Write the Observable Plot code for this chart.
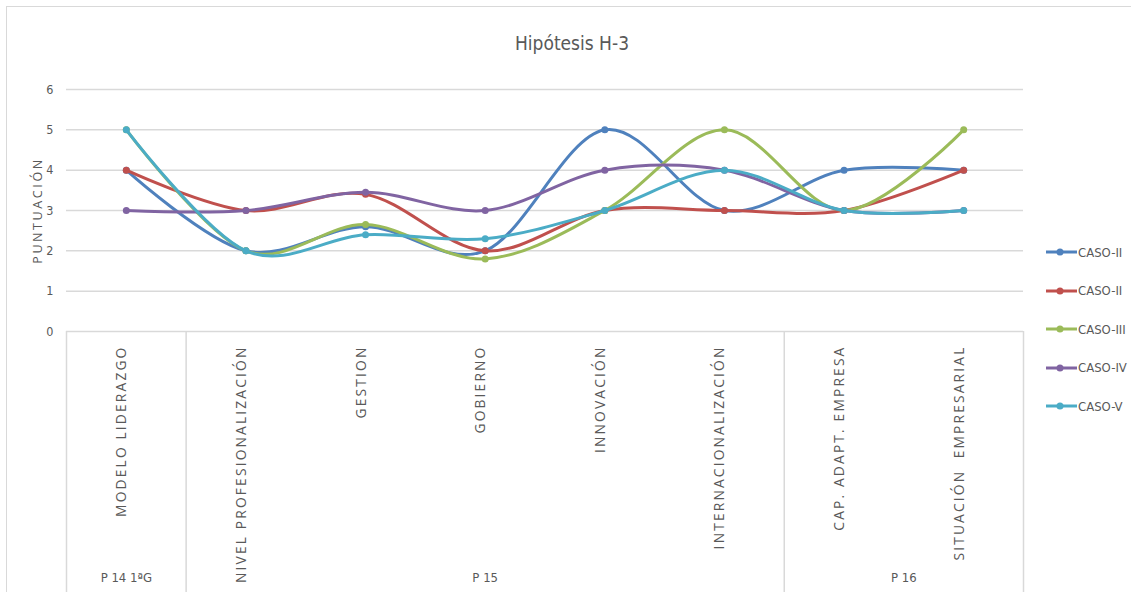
<!DOCTYPE html>
<html><head><meta charset="utf-8">
<script src="https://cdn.jsdelivr.net/npm/d3@7"></script>
<script src="https://cdn.jsdelivr.net/npm/@observablehq/plot@0.6"></script>
<style>
body{margin:0;background:#fff;}
#wrap{position:relative;width:1131px;height:592px;overflow:hidden;font-family:"DejaVu Sans Condensed","Roboto",sans-serif;}
#border{position:absolute;left:6px;top:6px;width:1140px;height:600px;border:1.5px solid #d9d9d9;}
#title{position:absolute;left:0;width:1144px;top:32px;text-align:center;font-size:19px;color:#595959;white-space:nowrap;}
#legend{position:absolute;left:1046px;top:233px;}
.item{height:38.5px;display:flex;align-items:center;font-size:13px;color:#595959;white-space:nowrap;}
.item svg{margin-right:1px;flex:none;}
#chart svg{position:absolute;left:0;top:0;overflow:visible;}
</style></head>
<body><div id="wrap"><div id="border"></div><div id="chart"></div><div id="title">Hipótesis H-3</div><div id="legend"></div></div>
<script>
const categories = ["MODELO LIDERAZGO","NIVEL PROFESIONALIZACIÓN","GESTION","GOBIERNO","INNOVACIÓN","INTERNACIONALIZACIÓN","CAP. ADAPT. EMPRESA","SITUACIÓN  EMPRESARIAL"];
const seriesNames = ["CASO-II","CASO-II","CASO-III","CASO-IV","CASO-V"];
const seriesColors = ["#4F81BD","#C0504D","#9BBB59","#8064A2","#4BACC6"];
const caso1 = [4, 2, 2.6, 2, 5, 3, 4, 4];
const caso2 = [4, 3, 3.4, 2, 3, 3, 3, 4];
const caso3 = [5, 2, 2.65, 1.8, 3, 5, 3, 5];
const caso4 = [3, 3, 3.45, 3, 4, 4, 3, 3];
const caso5 = [5, 2, 2.4, 2.3, 3, 4, 3, 3];
const groupLabels = ["P 14 1ªG","P 15","P 16"];
const groupSizes = [1, 5, 2];
const yTicks = [0, 1, 2, 3, 4, 5, 6];
const yLabel = "PUNTUACIÓN";

const allSeries = [caso1, caso2, caso3, caso4, caso5];
const rows = allSeries.flatMap((vals, s) => vals.map((v, i) => ({s, i, v})));

// group boundaries & centers (in category index units)
let start = 0;
const boundaries = [-0.5];
const groups = groupLabels.map((label, g) => {
  const c = start + (groupSizes[g] - 1) / 2;
  start += groupSizes[g];
  boundaries.push(start - 0.5);
  return {label, c};
});

const narrow = '"DejaVu Sans Condensed","Roboto",sans-serif';
const wide = '"Open Sans",sans-serif';
const grey = "#595959";

const seriesMarks = allSeries.flatMap((vals, s) => {
  const d = rows.filter(r => r.s === s);
  return [
    Plot.line(d, {x: "i", y: "v", stroke: seriesColors[s], strokeWidth: 3, curve: "cardinal"}),
    Plot.dot(d, {x: "i", y: "v", fill: seriesColors[s], r: 3.5})
  ];
});

const plot = Plot.plot({
  width: 1131, height: 592,
  marginLeft: 66, marginRight: 108, marginTop: 89, marginBottom: 261,
  x: {domain: [-0.5, categories.length - 0.5]},
  y: {domain: [0, 6]},
  style: {fontFamily: narrow, color: grey, background: "transparent", overflow: "visible"},
  marks: [
    Plot.ruleY(yTicks, {stroke: "#d9d9d9", strokeWidth: 1.5}),
    Plot.axisY({ticks: yTicks, tickFormat: d3.format("d"), tickSize: 0, tickPadding: 13, label: null, fontSize: 12.5, fontFamily: narrow, fill: grey}),
    Plot.axisX({ticks: boundaries, tickSize: 261, tickFormat: () => "", label: null, color: "#d9d9d9", strokeWidth: 1.5}),
    ...seriesMarks,
    Plot.text(categories, {x: (d, i) => i, text: d => d, frameAnchor: "bottom", rotate: -90, textAnchor: "end", dy: 14, fontFamily: wide, fontSize: 13.8, fill: grey}),
    Plot.text(groups, {x: "c", text: "label", frameAnchor: "bottom", dy: 250, fontFamily: narrow, fontSize: 13, fill: grey}),
    Plot.text([yLabel], {text: d => d, frameAnchor: "left", textAnchor: "middle", rotate: -90, dx: -29, fontFamily: wide, fontSize: 12.5, fill: grey})
  ]
});
d3.select(plot).selectAll("text")
  .filter(function() { return categories.includes(this.textContent); })
  .style("letter-spacing", "2.15px");
d3.select(plot).selectAll("text")
  .filter(function() { return this.textContent === yLabel; })
  .style("letter-spacing", "2.6px");
document.getElementById("chart").appendChild(plot);

const legend = document.getElementById("legend");
seriesNames.forEach((name, s) => {
  const div = document.createElement("div");
  div.className = "item";
  div.innerHTML = `<svg width="31" height="12"><line x1="0" x2="31" y1="6" y2="6" stroke="${seriesColors[s]}" stroke-width="3"/><circle cx="14" cy="6" r="3.5" fill="${seriesColors[s]}"/></svg><span>${name}</span>`;
  legend.appendChild(div);
});
</script>
</body></html>
